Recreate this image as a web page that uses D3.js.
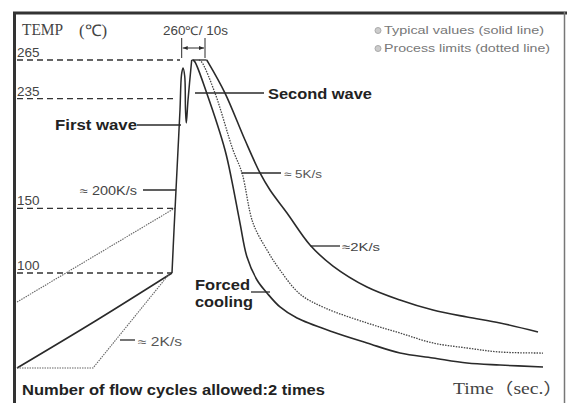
<!DOCTYPE html>
<html><head><meta charset="utf-8">
<script src="https://cdn.jsdelivr.net/npm/d3@7"></script>
<style>
html,body{margin:0;padding:0;background:#fff;}
svg{display:block;}
</style></head>
<body>
<svg id="c" width="567" height="403"></svg>
<script>
// ---------- data (time in s, temperature in °C) ----------
const tempLevels = [265, 235, 150, 100];
const tempLevelLabels = ["265", "235", "150", "100"];
const levelEndTimes = [81.5, 80, 79, 77.5];

const preheatUpperLimit = [[0, 77.5], [79, 150.3]];
const preheatTypical = [[0, 26.4], [40, 63.6], [77.5, 100]];
const preheatLowerLimit = [[0, 26.4], [38, 26.4], [76.5, 100]];

const riseWaves = [[77.5,100],[78.5,133.1],[79.5,164.3],[80.5,195.3],[81.5,226.4],[82.25,253.4],[83,258.8],[83.85,252.6],[84.25,226.4],[84.65,216.2],[85.5,233.9],[87.35,265]];
const peakPlateau = [[87.35,265],[94.85,265]];

const forcedCooling = [[88,265],[89,263.4],[94.85,239.4],[104,195.3],[107.35,172],[111.5,138.7],[115,112.4],[120,94.6],[125,84.5],[131.5,73.7],[140,65.1],[158,54.3],[175,45.8],[191.5,38],[208,34.2],[225,30.3],[241.5,28.7],[263,27.2]];
const coolingLimit = [[91,265],[92.35,263.4],[99,239.4],[108,195.3],[112.5,177.5],[118,138.7],[125,117.8],[131.5,102.3],[141.5,83.7],[154,72.9],[175,61.3],[191.5,53.5],[208,45.8],[225,41.9],[241.5,38.8],[263,38]];
const slowCooling = [[94.85,265],[95.5,263.4],[104,239.4],[114,203],[121.5,177.5],[126.5,164.3],[135,146.5],[146.5,121.7],[158,105.4],[175,89.2],[191.5,79.1],[208,71.3],[225,65.9],[241.5,61.3],[260.5,54.3]];

const legendItems = ["Typical values (solid  line)", "Process limits (dotted  line)"];

// ---------- scales ----------
const svg = d3.select("#c");
const x = d3.scaleLinear().domain([0, 275]).range([17, 567]);
const y = d3.scaleLinear().domain([0, 300]).range([402.1, 14.8]);

const ink = "#2a2a2a";
const lineLin = d3.line().x(d => x(d[0])).y(d => y(d[1]));
const lineSmooth = d3.line().x(d => x(d[0])).y(d => y(d[1])).curve(d3.curveCatmullRom.alpha(0.5));

// ---------- frame ----------
svg.append("line").attr("x1",13).attr("x2",567).attr("y1",13).attr("y2",13).attr("stroke","#333").attr("stroke-width",3);
svg.append("line").attr("x1",14.5).attr("x2",14.5).attr("y1",12).attr("y2",403).attr("stroke","#333").attr("stroke-width",3);
svg.append("line").attr("x1",564.5).attr("x2",564.5).attr("y1",12).attr("y2",403).attr("stroke","#777").attr("stroke-width",1.5);

// ---------- dashed reference levels ----------
tempLevels.forEach((t, i) => {
  svg.append("line")
    .attr("x1", x(0)).attr("x2", x(levelEndTimes[i]))
    .attr("y1", y(t)).attr("y2", y(t))
    .attr("stroke", "#333").attr("stroke-width", 1.3).attr("stroke-dasharray", "6,4");
  svg.append("text").attr("x", x(0)).attr("y", y(t) - 3)
    .attr("font-family", "Liberation Sans, Arial, sans-serif").attr("font-size", 13.5)
    .attr("fill", "#444").text(tempLevelLabels[i]);
});

// ---------- curves ----------
svg.append("path").attr("d", lineLin(preheatUpperLimit)).attr("fill","none").attr("stroke","#666").attr("stroke-width",1.1).attr("stroke-dasharray","1.5,1");
svg.append("path").attr("d", lineSmooth(preheatTypical)).attr("fill","none").attr("stroke",ink).attr("stroke-width",1.6);
svg.append("path").attr("d", lineLin(preheatLowerLimit)).attr("fill","none").attr("stroke","#666").attr("stroke-width",1.1).attr("stroke-dasharray","1.5,1");
svg.append("path").attr("d", lineSmooth(riseWaves)).attr("fill","none").attr("stroke",ink).attr("stroke-width",1.5);
svg.append("path").attr("d", lineLin(peakPlateau)).attr("fill","none").attr("stroke",ink).attr("stroke-width",1.3);
svg.append("path").attr("d", lineSmooth(forcedCooling)).attr("fill","none").attr("stroke",ink).attr("stroke-width",1.6);
svg.append("path").attr("d", lineSmooth(coolingLimit)).attr("fill","none").attr("stroke","#444").attr("stroke-width",1.3).attr("stroke-dasharray","1.5,1.2");
svg.append("path").attr("d", lineSmooth(slowCooling)).attr("fill","none").attr("stroke",ink).attr("stroke-width",1.6);

// ---------- annotations ----------
function leader(x1, x2, yy) {
  svg.append("line").attr("x1", x1).attr("x2", x2).attr("y1", yy).attr("y2", yy)
    .attr("stroke", ink).attr("stroke-width", 1.3);
}
function txt(tx, ty, s, opt = {}) {
  const t = svg.append("text").attr("x", tx).attr("y", ty)
    .attr("font-family", opt.family || "Liberation Sans, Arial, sans-serif")
    .attr("font-size", opt.size || 12)
    .attr("font-weight", opt.weight || "normal")
    .attr("fill", opt.fill || "#333")
    .text(s);
  if (opt.len) t.attr("textLength", opt.len).attr("lengthAdjust", "spacingAndGlyphs");
  return t;
}

// axis titles
txt(22, 35, "TEMP", {family: "Liberation Serif, serif", size: 16, len: 41, fill: "#444"});
txt(79, 36, "(℃)", {family: "Liberation Serif, serif", size: 16, len: 28, fill: "#444"});
txt(453, 394, "Time（sec.）", {family: "Liberation Serif, 'Noto Sans CJK SC', serif", size: 16, len: 110, fill: "#444"});
txt(22, 395, "Number of flow cycles allowed:2 times", {size: 15, weight: "bold", len: 303, fill: "#222"});

// legend
legendItems.forEach((s, i) => {
  const ly = 34 + i * 18;
  svg.append("circle").attr("cx", 378).attr("cy", ly - 3.5).attr("r", 3)
    .attr("fill", "#ccc").attr("stroke", "#aaa").attr("stroke-width", 1);
  txt(384, ly, s, {size: 10.5, fill: "#777", len: i === 0 ? 160 : 166});
});

// peak time window
const tA = x(82.35), tB = x(94);
svg.append("line").attr("x1", tA).attr("x2", tA).attr("y1", 38).attr("y2", 58).attr("stroke", ink).attr("stroke-width", 1);
svg.append("line").attr("x1", tB).attr("x2", tB).attr("y1", 38).attr("y2", 58).attr("stroke", ink).attr("stroke-width", 1);
svg.append("defs").html('<marker id="ar" viewBox="0 0 10 10" refX="10" refY="5" markerWidth="5" markerHeight="5" orient="auto-start-reverse"><path d="M0,1 L10,5 L0,9 z" fill="#2a2a2a"/></marker>');
svg.append("line").attr("x1", tA + 1).attr("x2", tB - 1).attr("y1", 48).attr("y2", 48)
  .attr("stroke", ink).attr("stroke-width", 1).attr("marker-start", "url(#ar)").attr("marker-end", "url(#ar)");
txt(163, 35, "260℃/ 10s", {size: 12, len: 65, fill: "#444"});

// wave labels
leader(137, x(82), 125);
txt(55, 130, "First wave", {size: 14, weight: "bold", len: 82, fill: "#222"});
leader(x(89), 264, 93);
txt(268, 99, "Second wave", {size: 14, weight: "bold", len: 104, fill: "#222"});

// rates
leader(143, x(79.5), 190);
txt(80, 195, "≈ 200K/s", {size: 12, len: 57, fill: "#444"});
leader(120, 135, 340);
txt(138, 346, "≈ 2K/s", {size: 12, len: 44, fill: "#555"});
leader(x(112.2), 281, 173);
txt(284, 178, "≈ 5K/s", {size: 11, len: 38, fill: "#555"});
leader(x(146.7), 340, 246);
txt(342, 251, "≈2K/s", {size: 11.5, len: 38, fill: "#444"});

// forced cooling
leader(251, x(126.5), 292);
txt(195, 290, "Forced", {size: 14, weight: "bold", len: 55, fill: "#222"});
txt(195, 307, "cooling", {size: 14, weight: "bold", len: 58, fill: "#222"});
</script>
</body></html>
